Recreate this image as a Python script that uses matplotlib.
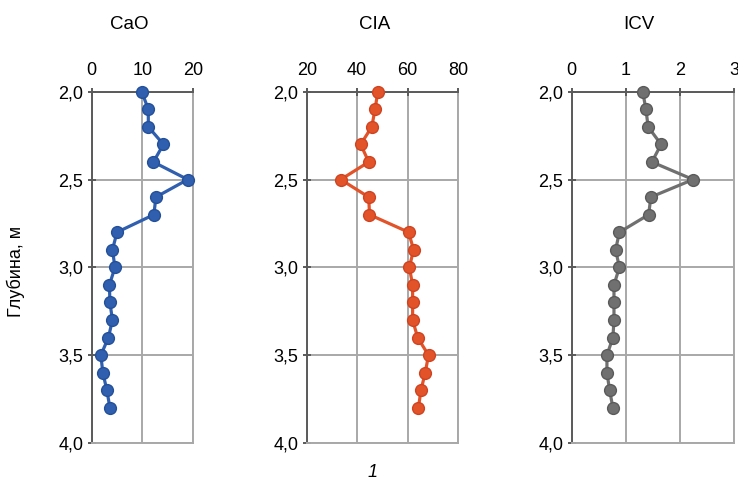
import matplotlib

matplotlib.use("Agg")
import matplotlib.pyplot as plt
from matplotlib.ticker import FuncFormatter

plt.rcParams["font.family"] = ["Liberation Sans", "DejaVu Sans"]

depth = [2.0, 2.1, 2.2, 2.3, 2.4, 2.5, 2.6, 2.7, 2.8, 2.9,
         3.0, 3.1, 3.2, 3.3, 3.4, 3.5, 3.6, 3.7, 3.8]
cao = [9.9, 11.2, 11.2, 14.2, 12.2, 19.0, 12.7, 12.3, 5.0, 4.1,
       4.6, 3.5, 3.6, 4.1, 3.3, 1.8, 2.2, 3.0, 3.6]
cia = [48.2, 47.1, 45.8, 41.4, 44.6, 33.5, 44.6, 44.9, 60.4, 62.4,
       60.7, 62.0, 62.0, 62.0, 64.0, 68.3, 67.0, 65.3, 64.3]
icv = [1.31, 1.37, 1.41, 1.65, 1.48, 2.24, 1.46, 1.42, 0.88, 0.81,
       0.88, 0.78, 0.78, 0.78, 0.76, 0.65, 0.65, 0.70, 0.76]

# title, values, x ticks, face colour, edge colour, axes rect, title x
panels = [
    ("CaO", cao, [0, 10, 20], "#2f5fae", "#24509a",
     [0.1243, 0.0885, 0.1369, 0.7228], 0.175),
    ("CIA", cia, [20, 40, 60, 80], "#e2532a", "#cf4420",
     [0.4156, 0.0885, 0.2050, 0.7228], 0.508),
    ("ICV", icv, [0, 1, 2, 3], "#707070", "#5a5a5a",
     [0.7747, 0.0885, 0.2202, 0.7228], 0.866),
]

grid_c = "#a8a8a8"
spine_c = "#5a5a5a"

fig = plt.figure(figsize=(7.38, 4.86), dpi=100)

for title, vals, xticks, color, edge, rect, tx in panels:
    ax = fig.add_axes(rect)
    ax.plot(vals, depth, "-o", color=color, lw=2.3, ms=8.5,
            mfc=color, mec=edge, mew=1.0, zorder=3, clip_on=False)
    ax.set_xlim(xticks[0], xticks[-1])
    ax.set_ylim(4.0, 2.0)
    ax.set_xticks(xticks)
    ax.set_yticks([2.0, 2.5, 3.0, 3.5, 4.0])
    ax.yaxis.set_major_formatter(FuncFormatter(lambda v, p: f"{v:.1f}".replace(".", ",")))
    ax.xaxis.tick_top()
    ax.grid(True, color=grid_c, lw=1.4, zorder=0)
    ax.set_axisbelow(True)
    for s in ("top", "left"):
        ax.spines[s].set_color(spine_c)
        ax.spines[s].set_linewidth(1.4)
    for s in ("right", "bottom"):
        ax.spines[s].set_color(grid_c)
        ax.spines[s].set_linewidth(1.4)
    ax.tick_params(axis="both", labelsize=13, color=spine_c, width=1.4,
                   length=6, direction="inout")
    ax.tick_params(axis="x", pad=6)
    ax.tick_params(axis="y", pad=3)
    fig.text(tx, 0.9486, title, fontsize=13.5, ha="center", va="center")

fig.text(0.022, 0.442, "Глубина, м", rotation=90, fontsize=13,
         ha="center", va="center")
fig.text(0.505, 0.027, "1", fontsize=13, style="italic",
         ha="center", va="center")

fig.savefig("out.png", dpi=100)
